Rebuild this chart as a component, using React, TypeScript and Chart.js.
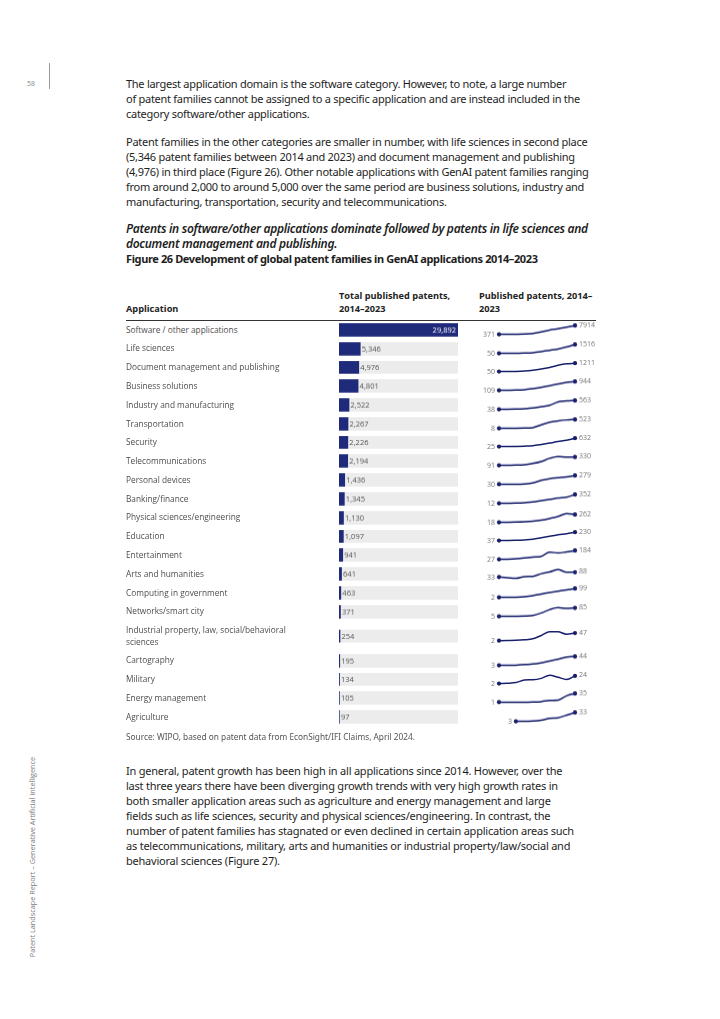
import React, { useEffect, useRef } from "react";
import { Chart, registerables } from "chart.js";

Chart.register(...registerables);

// ---------------- data ----------------
const years = ["2014", "2015", "2016", "2017", "2018", "2019", "2020", "2021", "2022", "2023"];

const applications = [
  "Software / other applications",
  "Life sciences",
  "Document management and publishing",
  "Business solutions",
  "Industry and manufacturing",
  "Transportation",
  "Security",
  "Telecommunications",
  "Personal devices",
  "Banking/finance",
  "Physical sciences/engineering",
  "Education",
  "Entertainment",
  "Arts and humanities",
  "Computing in government",
  "Networks/smart city",
  "Industrial property, law, social/behavioral sciences",
  "Cartography",
  "Military",
  "Energy management",
  "Agriculture",
];

const totals = [29892, 5346, 4976, 4801, 2522, 2267, 2226, 2194, 1436, 1345, 1130, 1097, 941, 641, 463, 371, 254, 195, 134, 105, 97];

const softwareOther = [371, 410, 450, 600, 1125, 2480, 4140, 5200, 6560, 7914];
const lifeSciences = [50, 55, 65, 110, 170, 340, 560, 780, 1100, 1516];
const documentMgmt = [50, 60, 75, 120, 225, 400, 630, 920, 1120, 1211];
const businessSolutions = [109, 125, 140, 175, 275, 400, 540, 710, 860, 944];
const industryManufacturing = [38, 45, 58, 80, 118, 195, 275, 485, 540, 563];
const transportation = [8, 10, 13, 22, 50, 215, 370, 445, 497, 523];
const security = [25, 28, 38, 55, 85, 175, 280, 390, 485, 632];
const telecommunications = [91, 95, 98, 110, 145, 200, 295, 345, 332, 330];
const personalDevices = [30, 27, 26, 35, 65, 140, 190, 215, 240, 279];
const bankingFinance = [12, 18, 25, 40, 62, 115, 165, 215, 250, 352];
const physicalSciences = [18, 22, 27, 36, 55, 90, 140, 200, 295, 262];
const education = [37, 39, 43, 52, 66, 100, 135, 172, 195, 230];
const entertainment = [27, 30, 37, 50, 66, 82, 156, 140, 160, 184];
const artsHumanities = [33, 25, 17, 37, 41, 72, 92, 120, 88, 88];
const computingGovernment = [2, 2, 4, 10, 21, 39, 55, 70, 84, 99];
const networksSmartCity = [5, 5, 6, 8, 14, 37, 70, 89, 80, 85];
const industrialProperty = [2, 3, 4, 7, 13, 33, 55, 54, 40, 47];
const cartography = [3, 3, 4, 7, 9, 15, 23, 32, 41, 44];
const military = [2, 3, 5, 12, 13, 17, 26, 20, 14, 24];
const energyManagement = [1, 0, 0, 0, 1, 3, 8, 9, 26, 35];
const agriculture = [null, null, 3, 3, 4, 7, 13, 15, 24, 33];

const yearlySeries: (number | null)[][] = [
  softwareOther, lifeSciences, documentMgmt, businessSolutions, industryManufacturing,
  transportation, security, telecommunications, personalDevices, bankingFinance,
  physicalSciences, education, entertainment, artsHumanities, computingGovernment,
  networksSmartCity, industrialProperty, cartography, military, energyManagement, agriculture,
];

// ---------------- styles ----------------
const NAVY = "#1f2a7a";
const LINE_NAVY = "#18206c";
const TRACK = "#ececec";
const TABLE_FONT = "'Open Sans', 'Noto Sans', sans-serif";
const BODY_FONT = "'Noto Sans', 'Open Sans', sans-serif";

const barValuePlugin = {
  id: "barValue",
  afterDatasetsDraw(chart: any) {
    const ctx = chart.ctx;
    const meta = chart.getDatasetMeta(0);
    const el = meta.data[0];
    if (!el) return;
    const v = chart.data.datasets[0].data[0] as number;
    const text = v.toLocaleString("en-US");
    ctx.save();
    ctx.font = `7.5px ${TABLE_FONT}`;
    ctx.textBaseline = "middle";
    const tw = ctx.measureText(text).width;
    if (el.x + tw + 3 > chart.chartArea.right) {
      ctx.fillStyle = "#ffffff";
      ctx.textAlign = "right";
      ctx.fillText(text, el.x - 2, el.y + 0.5);
    } else {
      ctx.fillStyle = "#555555";
      ctx.textAlign = "left";
      ctx.fillText(text, el.x + 1.5, el.y + 0.5);
    }
    ctx.restore();
  },
};

const sparkLabelPlugin = {
  id: "sparkLabels",
  afterDatasetsDraw(chart: any) {
    const ctx = chart.ctx;
    const meta = chart.getDatasetMeta(0);
    const data = chart.data.datasets[0].data as (number | null)[];
    const first = data.findIndex((d) => d != null);
    let last = data.length - 1;
    while (last > 0 && data[last] == null) last--;
    ctx.save();
    ctx.font = `7px ${TABLE_FONT}`;
    ctx.fillStyle = "#777777";
    ctx.textBaseline = "middle";
    const p0 = meta.data[first];
    const p1 = meta.data[last];
    ctx.textAlign = "right";
    ctx.fillText(String(data[first]), p0.x - 4, p0.y + 0.5);
    ctx.textAlign = "left";
    ctx.fillText(String(data[last]), p1.x + 4, p1.y - 0.5);
    ctx.restore();
  },
};

function BarCell({ value, max }: { value: number; max: number }) {
  const ref = useRef<HTMLCanvasElement>(null);
  useEffect(() => {
    const chart = new Chart(ref.current!, {
      type: "bar",
      data: {
        labels: [""],
        datasets: [
          { data: [value], backgroundColor: NAVY, barThickness: 12, grouped: false, order: 0 } as any,
          { data: [max], backgroundColor: TRACK, barThickness: 12, grouped: false, order: 1 } as any,
        ],
      },
      options: {
        indexAxis: "y",
        responsive: true,
        maintainAspectRatio: false,
        animation: false,
        events: [],
        layout: { padding: { left: 0, right: 21, top: 0, bottom: 0 } },
        scales: {
          x: { display: false, min: 0, max },
          y: { display: false },
        },
        plugins: { legend: { display: false }, tooltip: { enabled: false } },
      },
      plugins: [barValuePlugin],
    });
    return () => chart.destroy();
  }, [value, max]);
  return <canvas ref={ref} />;
}

function SparkCell({ series }: { series: (number | null)[] }) {
  const ref = useRef<HTMLCanvasElement>(null);
  useEffect(() => {
    const canvas = ref.current!;
    const h = canvas.parentElement!.clientHeight;
    const vals = series.filter((v) => v != null) as number[];
    const min = Math.min(...vals);
    const max = Math.max(...vals);
    const first = series.findIndex((d) => d != null);
    const last = series.length - 1;
    const pad = (h - 8.6) / 2;
    const chart = new Chart(canvas, {
      type: "line",
      data: {
        labels: years,
        datasets: [
          {
            data: series,
            borderColor: LINE_NAVY,
            backgroundColor: LINE_NAVY,
            borderWidth: 1.5,
            pointBackgroundColor: LINE_NAVY,
            pointBorderWidth: 0,
            pointRadius: (c: any) => (c.dataIndex === first || c.dataIndex === last ? 2.1 : 0),
            cubicInterpolationMode: "monotone",
            clip: false,
          } as any,
        ],
      },
      options: {
        responsive: true,
        maintainAspectRatio: false,
        animation: false,
        events: [],
        layout: { padding: { left: 29, right: 25, top: pad, bottom: pad } },
        scales: {
          x: { display: false, offset: false },
          y: { display: false, min, max },
        },
        plugins: { legend: { display: false }, tooltip: { enabled: false } },
      },
      plugins: [sparkLabelPlugin],
    });
    return () => chart.destroy();
  }, [series]);
  return <canvas ref={ref} />;
}

const bodyStyle: React.CSSProperties = {
  position: "absolute",
  left: 126,
  fontFamily: BODY_FONT,
  fontStretch: "semi-condensed",
  fontSize: 11,
  letterSpacing: "-0.27px",
  lineHeight: "15px",
  color: "#1e1e1e",
  whiteSpace: "nowrap",
  margin: 0,
};

const headStyle: React.CSSProperties = {
  position: "absolute",
  fontFamily: TABLE_FONT,
  fontWeight: 700,
  fontSize: 9.2,
  lineHeight: "13px",
  color: "#222",
  whiteSpace: "nowrap",
};

function Lines({ lines }: { lines: string[] }) {
  return (
    <>
      {lines.map((l, i) => (
        <div key={i}>{l}</div>
      ))}
    </>
  );
}

export default function App() {
  const maxTotal = Math.max(...totals);
  return (
    <div
      style={{
        position: "absolute",
        left: 0,
        top: 0,
        width: 720,
        height: 1019,
        background: "#ffffff",
        overflow: "hidden",
      }}
    >
      {/* page number and marker */}
      <div style={{ position: "absolute", left: 27, top: 79, fontFamily: TABLE_FONT, fontSize: 7, color: "#8a8a8a" }}>58</div>
      <div style={{ position: "absolute", left: 49, top: 63, width: 1, height: 26, background: "#9a9a9a" }} />

      {/* side running title */}
      <div
        style={{
          position: "absolute",
          left: 32,
          top: 857,
          transform: "translate(-50%, -50%) rotate(-90deg)",
          fontFamily: TABLE_FONT,
          fontSize: 7.3,
          color: "#7a7a7a",
          whiteSpace: "nowrap",
        }}
      >
        Patent Landscape Report – Generative Artificial Intelligence
      </div>

      <div style={{ ...bodyStyle, top: 75.5 }}>
        <Lines
          lines={[
            "The largest application domain is the software category. However, to note, a large number",
            "of patent families cannot be assigned to a specific application and are instead included in the",
            "category software/other applications.",
          ]}
        />
      </div>

      <div style={{ ...bodyStyle, top: 133.5 }}>
        <Lines
          lines={[
            "Patent families in the other categories are smaller in number, with life sciences in second place",
            "(5,346 patent families between 2014 and 2023) and document management and publishing",
            "(4,976) in third place (Figure 26). Other notable applications with GenAI patent families ranging",
            "from around 2,000 to around 5,000 over the same period are business solutions, industry and",
            "manufacturing, transportation, security and telecommunications.",
          ]}
        />
      </div>

      <div style={{ ...bodyStyle, top: 220.5, fontStyle: "italic", fontWeight: 600, fontSize: 12, letterSpacing: "-0.31px" }}>
        <Lines
          lines={[
            "Patents in software/other applications dominate followed by patents in life sciences and",
            "document management and publishing.",
          ]}
        />
      </div>

      <div style={{ ...bodyStyle, top: 250.5, fontWeight: 700, fontSize: 11, letterSpacing: "-0.38px" }}>
        Figure 26 Development of global patent families in GenAI applications 2014–2023
      </div>

      {/* table header */}
      <div style={{ ...headStyle, left: 126, top: 301.5 }}>Application</div>
      <div style={{ ...headStyle, left: 339, top: 288.5 }}>
        Total published patents,
        <br />
        2014–2023
      </div>
      <div style={{ ...headStyle, left: 479, top: 288.5 }}>
        Published patents, 2014–
        <br />
        2023
      </div>
      <div style={{ position: "absolute", left: 126, top: 320, width: 470, height: 1, background: "#333" }} />

      {/* table rows */}
      <div style={{ position: "absolute", left: 126, top: 320, width: 480 }}>
        {applications.map((name, i) => (
          <div key={name} style={{ position: "relative", padding: "3.6px 0", lineHeight: "11.6px" }}>
            <div style={{ width: 172, fontFamily: TABLE_FONT, fontSize: 8.3, color: "#4d4d4d" }}>{name}</div>
            <div style={{ position: "absolute", left: 213, top: 0, bottom: 0, width: 140 }}>
              <BarCell value={totals[i]} max={maxTotal} />
            </div>
            <div style={{ position: "absolute", left: 344, top: 0, bottom: 0, width: 130 }}>
              <SparkCell series={yearlySeries[i]} />
            </div>
          </div>
        ))}
      </div>

      <div style={{ position: "absolute", left: 126, top: 731, fontFamily: BODY_FONT, fontStretch: "semi-condensed", fontSize: 8.3, color: "#555", whiteSpace: "nowrap" }}>
        Source: WIPO, based on patent data from EconSight/IFI Claims, April 2024.
      </div>

      <div style={{ ...bodyStyle, top: 762.5, letterSpacing: "-0.22px" }}>
        <Lines
          lines={[
            "In general, patent growth has been high in all applications since 2014. However, over the",
            "last three years there have been diverging growth trends with very high growth rates in",
            "both smaller application areas such as agriculture and energy management and large",
            "fields such as life sciences, security and physical sciences/engineering. In contrast, the",
            "number of patent families has stagnated or even declined in certain application areas such",
            "as telecommunications, military, arts and humanities or industrial property/law/social and",
            "behavioral sciences (Figure 27).",
          ]}
        />
      </div>
    </div>
  );
}
